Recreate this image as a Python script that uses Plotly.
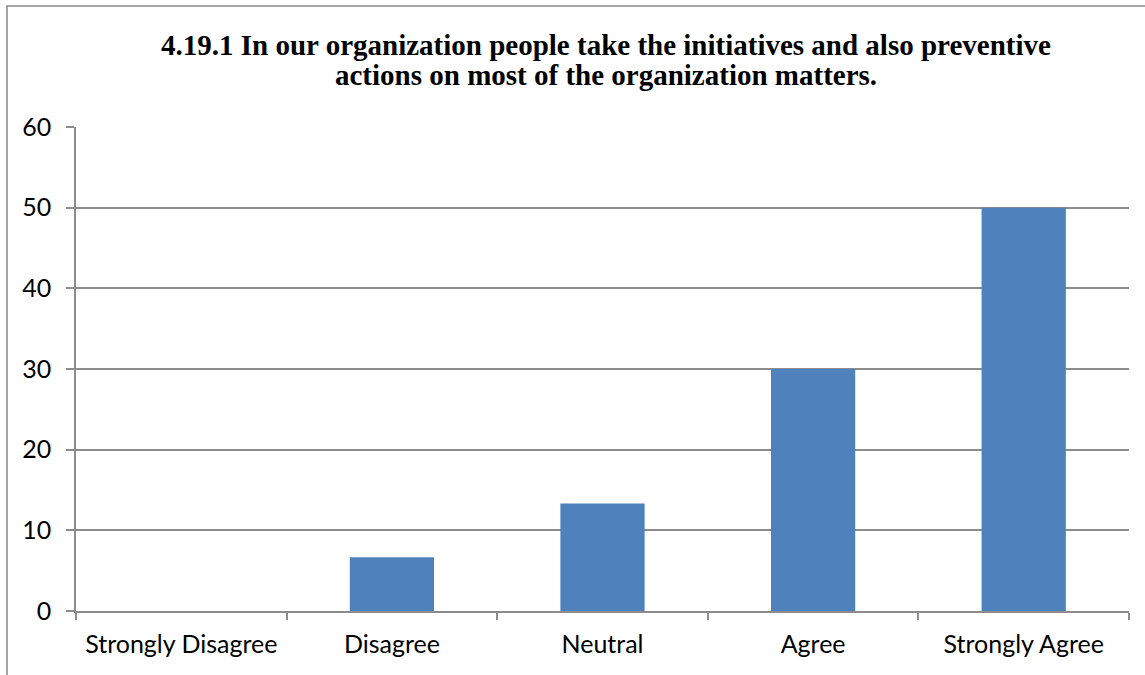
import plotly.graph_objects as go

categories = ["Strongly Disagree", "Disagree", "Neutral", "Agree", "Strongly Agree"]
percentages = [0, 6.67, 13.33, 30, 50]
y_ticks = [0, 10, 20, 30, 40, 50, 60]
title_lines = [
    "4.19.1 In our organization people take the initiatives and also preventive",
    "actions on most of the organization matters.",
]

W, H = 1145, 675
ML, MR, MT, MB = 76, 16, 127, 64
PW, PH = W - ML - MR, H - MT - MB

GRID = "#8c8c8c"
BAR = "#4F81BD"
TICK_FONT = dict(family="Lato, Calibri, sans-serif", size=25, color="#000000")


def px_to_paper_x(px):
    return (px - ML) / PW


def px_to_paper_y(py):
    return 1 + (MT - py) / PH


fig = go.Figure(
    go.Bar(
        x=categories,
        y=percentages,
        marker=dict(color=BAR, line=dict(width=0)),
        width=0.4,
        hoverinfo="x+y",
    )
)

fig.update_layout(
    width=W,
    height=H,
    margin=dict(l=ML, r=MR, t=MT, b=MB, pad=0),
    paper_bgcolor="white",
    plot_bgcolor="white",
    showlegend=False,
    xaxis=dict(
        type="category",
        showline=True,
        linecolor=GRID,
        linewidth=1.5,
        ticks="outside",
        tickson="boundaries",
        ticklen=7,
        tickwidth=1.5,
        tickcolor=GRID,
        showgrid=False,
        tickfont=TICK_FONT,
        ticklabelstandoff=10,
    ),
    yaxis=dict(
        range=[0, 60],
        tickvals=y_ticks,
        showline=True,
        linecolor=GRID,
        linewidth=1.5,
        ticks="outside",
        ticklen=8,
        tickwidth=1.5,
        tickcolor=GRID,
        showgrid=True,
        gridcolor=GRID,
        gridwidth=1.5,
        zeroline=False,
        tickfont=TICK_FONT,
        ticklabelstandoff=10,
    ),
)

# Two-line bold serif heading
for line, py in zip(title_lines, [45, 75]):
    fig.add_annotation(
        text=f"<b>{line}</b>",
        x=px_to_paper_x(606),
        y=px_to_paper_y(py),
        xref="paper",
        yref="paper",
        xanchor="center",
        yanchor="middle",
        showarrow=False,
        font=dict(family="Liberation Serif, Times New Roman, serif", size=29, color="#000000"),
    )

# Chart-area frame (left and top edges visible)
fig.add_shape(
    type="rect",
    xref="paper",
    yref="paper",
    x0=px_to_paper_x(7),
    x1=px_to_paper_x(W + 20),
    y0=px_to_paper_y(H + 20),
    y1=px_to_paper_y(6),
    line=dict(color="#888888", width=1.5),
    fillcolor="rgba(0,0,0,0)",
    layer="below",
)

fig.write_html("out.html")
